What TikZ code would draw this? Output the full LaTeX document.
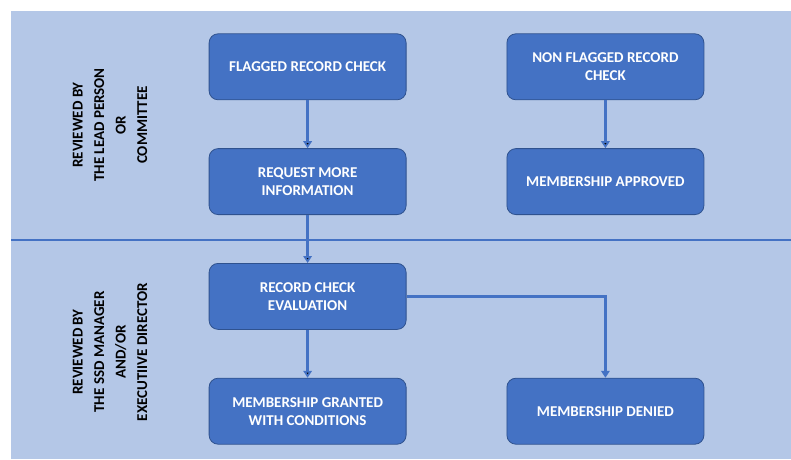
\documentclass[tikz,border=0pt]{standalone}
\usepackage{fontspec}
\setmainfont{Carlito}
\usepackage{tikz}
\usetikzlibrary{positioning, arrows.meta}
\usetikzlibrary{matrix}
\definecolor{paneblue}{HTML}{B4C7E7}
\definecolor{boxblue}{HTML}{4472C4}
\definecolor{boxedge}{HTML}{2F528F}
\tikzset{
    stepbox/.style={draw=boxedge, line width=0.8pt, fill=boxblue, rounded corners=9pt,
        minimum width=197pt, minimum height=66pt, align=center, text=white,
        font=\bfseries\fontsize{15}{18}\selectfont},
    reviewer/.style={rotate=90, align=center,
        font=\bfseries\fontsize{15}{21.5}\selectfont},
    flow/.style={draw=boxblue, line width=2.6pt, -{Triangle[width=8.5pt,length=7pt]}}
}

\begin{document}
\begin{tikzpicture}[x=1pt,y=1pt]
    \useasboundingbox (0,0) rectangle (791,-459);
    \fill[paneblue] (11,-11) rectangle (791,-459);
    \draw[boxblue, line width=2pt] (11,-240) -- (791,-240);
    \node[reviewer] (lead) at (110,-125) {REVIEWED BY\\THE LEAD PERSON\\OR\\COMMITTEE};
    \node[reviewer] (manager) at (110,-352) {REVIEWED BY\\THE SSD MANAGER\\AND/OR\\EXECUTIIVE DIRECTOR};
    \matrix (m) [row sep=48pt,column sep=100pt] at (456.5,-239)
    {%
        \node[stepbox] (flagged) {FLAGGED RECORD CHECK}; &
        \node[stepbox] (nonflagged) {NON FLAGGED RECORD\\CHECK}; \\
        \node[stepbox] (request) {REQUEST MORE\\INFORMATION}; &
        \node[stepbox] (approved) {MEMBERSHIP APPROVED}; \\
        \node[stepbox] (evaluation) {RECORD CHECK\\EVALUATION}; & \\
        \node[stepbox] (granted) {MEMBERSHIP GRANTED\\WITH CONDITIONS}; &
        \node[stepbox] (denied) {MEMBERSHIP DENIED}; \\
    };
    \path[flow]
        (flagged) edge (request)
        (nonflagged) edge (approved)
        (request) edge (evaluation)
        (evaluation) edge (granted);
    \draw[flow] (evaluation.east) -| (denied.north);
\end{tikzpicture}
\end{document}
